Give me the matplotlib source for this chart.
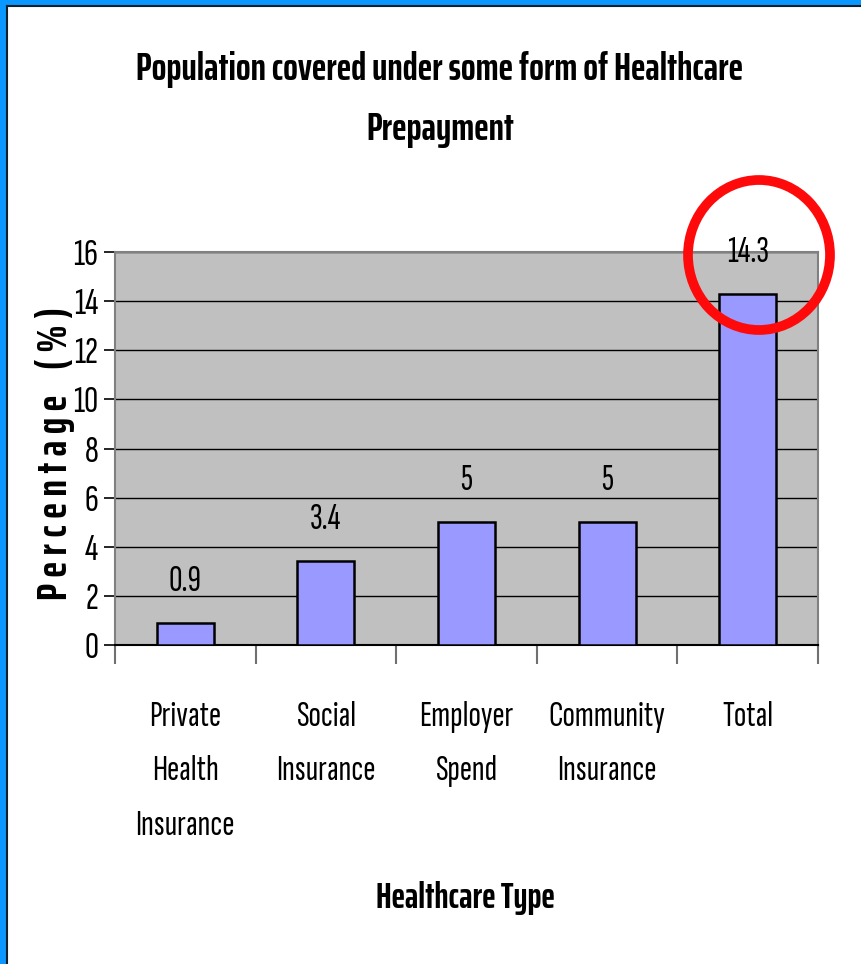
import matplotlib
matplotlib.use("Agg")
import matplotlib.pyplot as plt
from matplotlib import font_manager
from matplotlib.patches import Ellipse, Rectangle

categories = ["Private\nHealth\nInsurance", "Social\nInsurance", "Employer\nSpend",
              "Community\nInsurance", "Total"]
values = [0.9, 3.4, 5, 5, 14.3]
value_labels = ["0.9", "3.4", "5", "5", "14.3"]
yticks = [0, 2, 4, 6, 8, 10, 12, 14, 16]

names = {f.name for f in font_manager.fontManager.ttflist}
REG = "Sofia Sans Extra Condensed" if "Sofia Sans Extra Condensed" in names else "DejaVu Sans"
BOLD = "Saira ExtraCondensed" if "Saira ExtraCondensed" in names else "DejaVu Sans"
plt.rcParams["font.family"] = [REG, "DejaVu Sans"]

W, H = 861, 964
fig = plt.figure(figsize=(W / 100, H / 100), dpi=100)
fig.patch.set_facecolor("white")

# frame (blue border top and left with dark inner line)
fig.add_artist(Rectangle((0, 1 - 5 / H), 1, 5 / H, transform=fig.transFigure,
                         facecolor="#0A97FF", edgecolor="none"))
fig.add_artist(Rectangle((0, 0), 6 / W, 1, transform=fig.transFigure,
                         facecolor="#0A97FF", edgecolor="none"))
fig.add_artist(plt.Line2D([6.5 / W, 1], [1 - 5.5 / H, 1 - 5.5 / H], transform=fig.transFigure,
                          color="#10202a", lw=1.5))
fig.add_artist(plt.Line2D([6.5 / W, 6.5 / W], [0, 1 - 5.5 / H], transform=fig.transFigure,
                          color="#10202a", lw=1.5))

left, right, top, bottom = 115, 818, 252, 645
ax = fig.add_axes([left / W, 1 - bottom / H, (right - left) / W, (bottom - top) / H])
ax.set_facecolor("#C0C0C0")

x = list(range(len(categories)))
ax.bar(x, values, width=0.405, color="#9999FF", edgecolor="black", linewidth=1.8, zorder=3)

ax.set_ylim(0, 16)
ax.set_xlim(-0.5, len(categories) - 0.5)
ax.set_yticks(yticks)
ax.set_yticklabels([str(t) for t in yticks], fontsize=28, family=REG)
ax.yaxis.grid(True, color="black", linewidth=1.0, zorder=1)
ax.set_axisbelow(True)

ax.set_xticks(x)
ax.set_xticklabels(categories, fontsize=26.5, linespacing=1.9, family=REG)
ax.tick_params(axis="x", which="major", length=0, pad=40)
ax.set_xticks([i - 0.5 for i in range(len(categories) + 1)], minor=True)
ax.tick_params(axis="x", which="minor", length=14, width=1.5, color="#707070")
ax.tick_params(axis="y", length=8, width=1.2, color="black", pad=4)

for s in ["top", "right", "left"]:
    ax.spines[s].set_color("#808080")
    ax.spines[s].set_linewidth(1.5)
ax.spines["bottom"].set_color("black")
ax.spines["bottom"].set_linewidth(1.5)

for xi, v, lab in zip(x, values, value_labels):
    ax.annotate(lab, (xi, v), xytext=(0, 30), textcoords="offset points",
                ha="center", va="center", fontsize=27, family=REG)

fig.text(440 / W, 1 - 70 / H, "Population covered under some form of Healthcare",
         ha="center", va="center", fontsize=28, fontweight="bold", family=BOLD)
fig.text(440 / W, 1 - 130 / H, "Prepayment",
         ha="center", va="center", fontsize=28, fontweight="bold", family=BOLD)
fig.text(465 / W, 1 - 898 / H, "Healthcare Type",
         ha="center", va="center", fontsize=26, fontweight="bold", family=BOLD)
fig.text(55 / W, 1 - 453 / H, "P e r c e n t a g e    ( % )", rotation=90,
         ha="center", va="center", fontsize=30.5, fontweight="bold", family=BOLD)

# red highlight circle
fig.add_artist(Ellipse((759 / W, 1 - 255 / H), 142 / W, 150 / H, transform=fig.transFigure,
                       facecolor="none", edgecolor="#FF0A0A", linewidth=7, zorder=10))

fig.savefig("out.png", dpi=100)
